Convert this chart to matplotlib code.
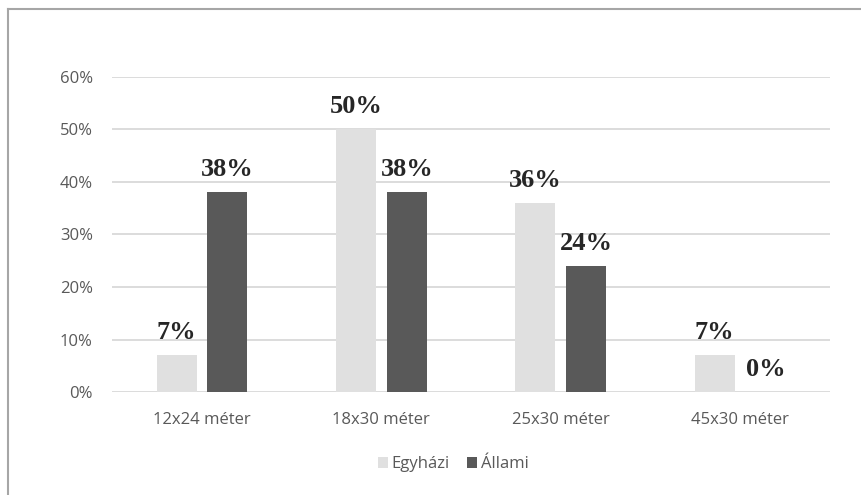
import numpy as np
import matplotlib.pyplot as plt
from matplotlib.lines import Line2D
from matplotlib.ticker import PercentFormatter

categories = ['12x24 méter', '18x30 méter', '25x30 méter', '45x30 méter']
egyhazi = [0.07, 0.50, 0.36, 0.07]
allami = [0.38, 0.38, 0.24, 0.00]
series_names = ['Egyházi', 'Állami']

text_color = '#595959'
plt.rcParams['font.family'] = ['Open Sans', 'DejaVu Sans']

fig = plt.figure(figsize=(8.62, 4.95), dpi=100)
ax = fig.add_axes([0.1303, 0.2075, 0.8322, 0.6377])

x = np.arange(len(categories))
w = 0.223
off = 0.142
b1 = ax.bar(x - off, egyhazi, w, color='#e0e0e0', label=series_names[0], zorder=2)
b2 = ax.bar(x + off, allami, w, color='#595959', label=series_names[1], zorder=2)

# value labels in bold serif above each bar
for bars, vals in [(b1, egyhazi), (b2, allami)]:
    for r, v in zip(bars, vals):
        ax.annotate(f'{v*100:.0f}%', (r.get_x() + r.get_width() / 2, v),
                    xytext=(0, 11.5), textcoords='offset points',
                    ha='center', va='baseline', fontsize=19, fontweight='bold',
                    family='Liberation Serif', color='#262626',
                    annotation_clip=False, zorder=3)

ax.set_xlim(-0.5, 3.5)
ax.set_ylim(0, 0.6)
ax.set_yticks(np.arange(0, 0.61, 0.1))
ax.yaxis.set_major_formatter(PercentFormatter(1.0, decimals=0))
ax.set_xticks(x)
ax.set_xticklabels(categories)
ax.grid(axis='y', color='#d9d9d9', linewidth=1.3, zorder=0)
ax.tick_params(length=0, labelsize=12, labelcolor=text_color)
ax.tick_params(axis='y', pad=14)
ax.tick_params(axis='x', pad=14)
for s in ax.spines.values():
    s.set_visible(False)

fig.legend(loc='center', bbox_to_anchor=(453 / 862, 1 - 464 / 495), ncol=2,
           frameon=False, fontsize=12, labelcolor=text_color,
           handlelength=0.65, handleheight=0.65, handletextpad=0.2,
           columnspacing=1.0)

# chart frame: top and left edges
fig.add_artist(Line2D([8 / 862, 1], [1 - 9 / 495, 1 - 9 / 495],
                      color='#a6a6a6', linewidth=1.5, transform=fig.transFigure))
fig.add_artist(Line2D([8 / 862, 8 / 862], [1 - 9 / 495, 0],
                      color='#a6a6a6', linewidth=1.5, transform=fig.transFigure))

fig.savefig('out.png', dpi=100)
